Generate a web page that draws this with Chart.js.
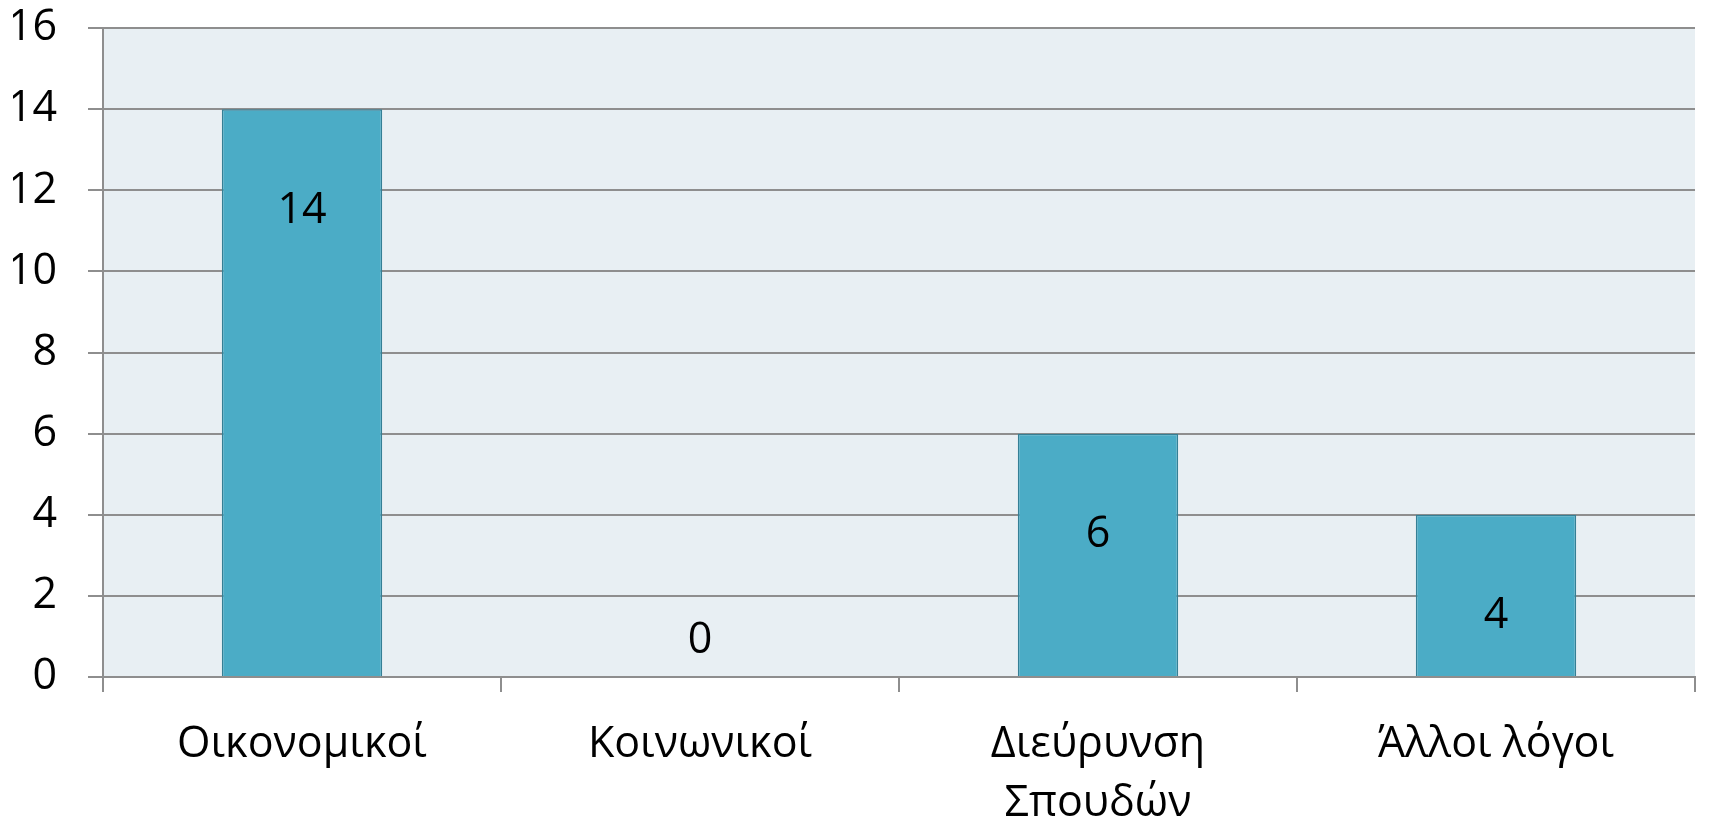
<!DOCTYPE html>
<html>
<head>
<meta charset="utf-8">
<script src="https://cdn.jsdelivr.net/npm/chart.js@4.4.1/dist/chart.umd.min.js"></script>
<style>
  html, body { margin: 0; padding: 0; background: #fff; }
  #wrap { width: 1719px; height: 819px; }
</style>
</head>
<body>
<div id="wrap"><canvas id="reasons"></canvas></div>
<script>
// categories and counts
var categories = ["Οικονομικοί", "Κοινωνικοί", ["Διεύρυνση", "Σπουδών"], "Άλλοι λόγοι"];
var counts = [14, 0, 6, 4];
var yTicks = [0, 2, 4, 6, 8, 10, 12, 14, 16];

var FONT = "'Open Sans', 'Noto Sans', sans-serif";

// light blue-grey plot area behind the bars
var plotBg = {
    id: "plotBg",
    beforeDraw: function (chart) {
        var a = chart.chartArea, ctx = chart.ctx;
        ctx.save();
        ctx.fillStyle = "#e8eff3";
        ctx.fillRect(a.left, a.top, a.right - a.left, a.bottom - a.top);
        ctx.restore();
    }
};

// value labels, sitting a bit below the bar top (or above the axis for zero)
var valueLabels = {
    id: "valueLabels",
    afterDatasetsDraw: function (chart) {
        var ctx = chart.ctx, y = chart.scales.y;
        var meta = chart.getDatasetMeta(0);
        ctx.save();
        ctx.font = "43px " + FONT;
        ctx.fillStyle = "#000";
        ctx.textAlign = "center";
        ctx.textBaseline = "middle";
        meta.data.forEach(function (bar, i) {
            var v = counts[i];
            var at = v > 0 ? v - 2.5 : v + 0.9;
            ctx.fillText(String(v), bar.x, y.getPixelForValue(at));
        });
        ctx.restore();
    }
};

var ctx = document.getElementById("reasons").getContext("2d");
new Chart(ctx, {
    type: "bar",
    data: {
        labels: categories,
        datasets: [
            {
                data: counts,
                backgroundColor: "#4bacc6",
                borderColor: "#357f95",
                borderWidth: 1.5,
                categoryPercentage: 1,
                barPercentage: 0.403,
            },
        ],
    },
    options: {
        responsive: true,
        maintainAspectRatio: false,
        animation: false,
        layout: { padding: { left: 13, right: 24, top: 28, bottom: 0 } },
        plugins: {
            legend: { display: false },
            tooltip: { enabled: false },
        },
        scales: {
            y: {
                min: 0,
                max: 16,
                afterBuildTicks: function (scale) {
                    scale.ticks = yTicks.map(function (v) { return { value: v }; });
                },
                afterFit: function (scale) {
                    scale.width = 90;
                    scale.paddingTop = 0;
                    scale.paddingBottom = 0;
                },
                ticks: {
                    color: "#000",
                    font: { family: FONT, size: 43 },
                    padding: 31,
                },
                grid: {
                    color: "#8e8e8e",
                    lineWidth: 2,
                    tickLength: 15,
                },
                border: { color: "#8e8e8e", width: 2 },
            },
            x: {
                afterFit: function (scale) { scale.height = 142; },
                ticks: {
                    color: "#000",
                    font: { family: FONT, size: 43, lineHeight: 1.38 },
                    padding: 23,
                    maxRotation: 0,
                },
                grid: {
                    offset: true,
                    drawOnChartArea: false,
                    color: "#8e8e8e",
                    lineWidth: 2,
                    tickLength: 15,
                },
                border: { color: "#8e8e8e", width: 2 },
            },
        },
    },
    plugins: [plotBg, valueLabels],
});
</script>
</body>
</html>
